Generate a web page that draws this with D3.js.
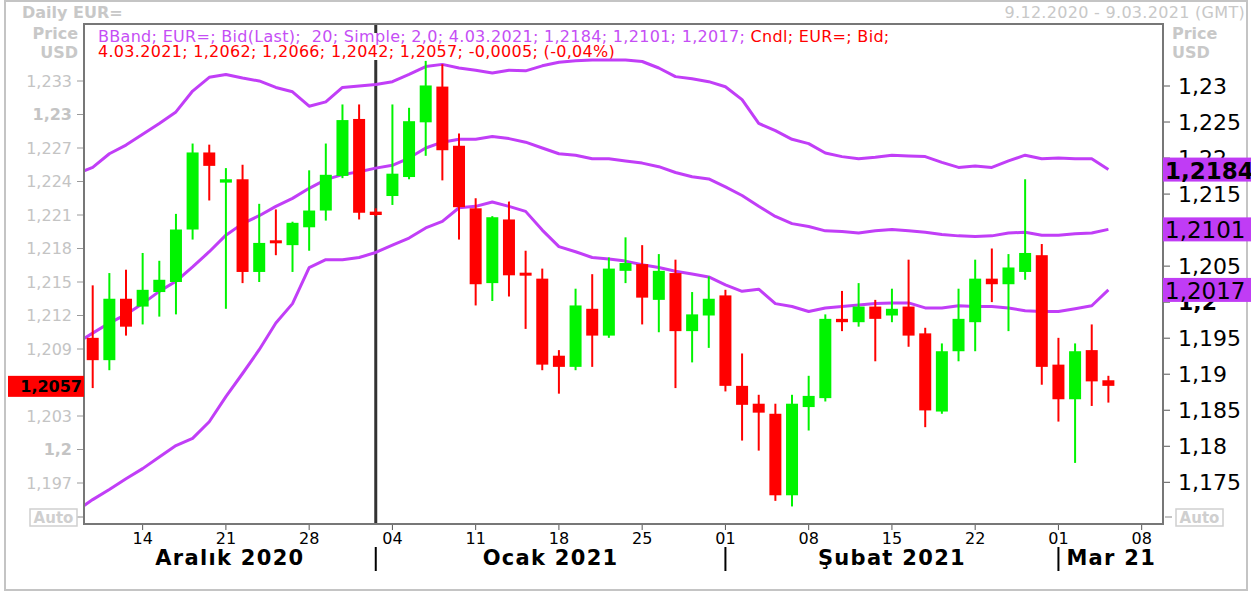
<!DOCTYPE html>
<html>
<head>
<meta charset="utf-8">
<script src="https://cdn.jsdelivr.net/npm/d3@7"></script>
<style>
  body { margin: 0; background: #fff; }
  text { font-family: "DejaVu Sans", Verdana, sans-serif; }
</style>
</head>
<body>
<div id="chart"></div>
<script>
// trading days shown as candles
const candleDates = [
  "2020-12-09","2020-12-10","2020-12-11",
  "2020-12-14","2020-12-15","2020-12-16","2020-12-17","2020-12-18",
  "2020-12-21","2020-12-22","2020-12-23","2020-12-24","2020-12-25",
  "2020-12-28","2020-12-29","2020-12-30","2020-12-31","2021-01-01",
  "2021-01-04","2021-01-05","2021-01-06","2021-01-07","2021-01-08",
  "2021-01-11","2021-01-12","2021-01-13","2021-01-14","2021-01-15",
  "2021-01-18","2021-01-19","2021-01-20","2021-01-21","2021-01-22",
  "2021-01-25","2021-01-26","2021-01-27","2021-01-28","2021-01-29",
  "2021-02-01","2021-02-02","2021-02-03","2021-02-04","2021-02-05",
  "2021-02-08","2021-02-09","2021-02-10","2021-02-11","2021-02-12",
  "2021-02-15","2021-02-16","2021-02-17","2021-02-18","2021-02-19",
  "2021-02-22","2021-02-23","2021-02-24","2021-02-25","2021-02-26",
  "2021-03-01","2021-03-02","2021-03-03","2021-03-04"
];

const open = [1.2100,1.2080,1.2135, 1.2128,1.2141,1.2150,1.2197,1.2266, 1.2239,1.2242,1.2159,1.2186,1.2183,
  1.2199,1.2214,1.2245,1.2296,1.2213, 1.2227,1.2244,1.2293,1.2325,1.2272, 1.2216,1.2149,1.2206,1.2157,1.2153,
  1.2084,1.2074,1.2126,1.2102,1.2160, 1.2166,1.2134,1.2158,1.2106,1.2120, 1.2138,1.2057,1.2041,1.2032,1.1959,
  1.2038,1.2046,1.2117,1.2114,1.2128, 1.2120,1.2128,1.2104,1.2034,1.2088, 1.2114,1.2153,1.2148,1.2159,1.2174,
  1.2076,1.2045,1.2089,1.2062];
const high = [1.2147,1.2158,1.2161, 1.2176,1.2169,1.2211,1.2274,1.2273, 1.2252,1.2255,1.2220,1.2215,1.2204,
  1.2250,1.2274,1.2309,1.2309,1.2216, 1.2309,1.2306,1.2348,1.2345,1.2283, 1.2225,1.2209,1.2222,1.2178,1.2162,
  1.2089,1.2144,1.2157,1.2172,1.2190, 1.2183,1.2175,1.2170,1.2141,1.2155, 1.2143,1.2086,1.2049,1.2041,1.2049,
  1.2066,1.2121,1.2142,1.2149,1.2134, 1.2144,1.2170,1.2109,1.2095,1.2144, 1.2170,1.2180,1.2175,1.2242,1.2184,
  1.2100,1.2095,1.2112,1.2066];
const low = [1.2055,1.2071,1.2102, 1.2112,1.2119,1.2121,1.2188,1.2223, 1.2126,1.2149,1.2150,1.2174,1.2159,
  1.2178,1.2205,1.2243,1.2206,1.2209, 1.2219,1.2242,1.2263,1.2241,1.2188, 1.2129,1.2133,1.2137,1.2108,1.2071,
  1.2050,1.2071,1.2074,1.2100,1.2149, 1.2112,1.2105,1.2055,1.2078,1.2091, 1.2052,1.2008,1.1999,1.1954,1.1949,
  1.2017,1.2043,1.2106,1.2110,1.2079, 1.2114,1.2092,1.2020,1.2032,1.2079, 1.2088,1.2132,1.2106,1.2152,1.2058,
  1.2025,1.1988,1.2039,1.2042];
const close = [1.2080,1.2135,1.2110, 1.2143,1.2152,1.2197,1.2266,1.2254, 1.2242,1.2159,1.2185,1.2184,1.2203,
  1.2214,1.2246,1.2295,1.2212,1.2210, 1.2247,1.2294,1.2326,1.2268,1.2217, 1.2148,1.2208,1.2156,1.2155,1.2076,
  1.2074,1.2129,1.2102,1.2162,1.2167, 1.2136,1.2160,1.2106,1.2121,1.2135, 1.2057,1.2040,1.2033,1.1959,1.2041,
  1.2048,1.2117,1.2114,1.2128,1.2117, 1.2126,1.2102,1.2035,1.2088,1.2117, 1.2153,1.2148,1.2163,1.2176,1.2074,
  1.2045,1.2088,1.2061,1.2057];

// Bollinger band (20, 2.0) starts one day before the first candle
const bandStart = "2020-12-08";
const bbUpper = [1.2178,1.2187,1.2206,1.2218,1.2233,1.2248,1.2264,1.2293,1.2312,1.2316,1.2311,1.2307,1.2298,
  1.2292,1.2272,1.2278,1.2298,1.2300,1.2302,1.2306,1.2316,1.2327,1.2330,1.2325,1.2322,1.2318,1.2322,1.2321,
  1.2328,1.2333,1.2335,1.2336,1.2336,1.2336,1.2334,1.2325,1.2313,1.2310,1.2306,1.2299,1.2281,1.2248,1.2238,
  1.2226,1.2220,1.2207,1.2202,1.2199,1.2201,1.2204,1.2203,1.2202,1.2194,1.2187,1.2189,1.2187,1.2196,1.2204,
  1.2199,1.2200,1.2199,1.2199,1.2184];
const bbMiddle = [1.1943,1.1957,1.1971,1.1983,1.1998,1.2015,1.2029,1.2049,1.2070,1.2093,1.2109,1.2120,1.2133,
  1.2144,1.2158,1.2170,1.2177,1.2181,1.2186,1.2190,1.2200,1.2214,1.2222,1.2226,1.2226,1.2230,1.2227,1.2222,
  1.2214,1.2206,1.2204,1.2199,1.2199,1.2196,1.2193,1.2188,1.2180,1.2174,1.2171,1.2160,1.2148,1.2133,1.2119,
  1.2109,1.2105,1.2099,1.2098,1.2096,1.2099,1.2101,1.2099,1.2097,1.2094,1.2092,1.2091,1.2092,1.2096,1.2097,
  1.2093,1.2093,1.2095,1.2096,1.2101];
const bbLower = [1.1710,1.1726,1.1740,1.1755,1.1769,1.1785,1.1801,1.1811,1.1834,1.1869,1.1901,1.1934,1.1971,
  1.1998,1.2048,1.2059,1.2059,1.2062,1.2069,1.2079,1.2089,1.2103,1.2112,1.2131,1.2133,1.2139,1.2133,1.2126,
  1.2100,1.2077,1.2070,1.2062,1.2060,1.2057,1.2052,1.2048,1.2043,1.2039,1.2035,1.2024,1.2015,1.2018,1.1998,
  1.1994,1.1987,1.1992,1.1994,1.1996,1.1998,1.1999,1.1999,1.1992,1.1992,1.1995,1.1994,1.1994,1.1992,1.1988,
  1.1987,1.1987,1.1991,1.1995,1.2017];

// axis labels
const leftTicks = [1.233,1.23,1.227,1.224,1.221,1.218,1.215,1.212,1.209,1.206,1.203,1.2,1.197];
const leftBold = [1.23, 1.2];
const rightTicks = [1.23,1.225,1.22,1.215,1.21,1.205,1.2,1.195,1.19,1.185,1.18,1.175];
const rightBold = [1.2];
const tickDates = ["2020-12-14","2020-12-21","2020-12-28","2021-01-04","2021-01-11","2021-01-18","2021-01-25",
  "2021-02-01","2021-02-08","2021-02-15","2021-02-22","2021-03-01","2021-03-08"];
const monthStarts = ["2021-01-01","2021-02-01","2021-03-01"];
const monthLabels = ["Aralık 2020","Ocak 2021","Şubat 2021","Mar 21"];

const W = 1251, H = 593;
const plot = { left: 84, right: 1163, top: 24, bottom: 524 };
const upColor = "#00f400", downColor = "#ff0000", bandColor = "#c13ef7";

const parse = d3.timeParse("%Y-%m-%d");
const fmtKey = d3.timeFormat("%Y-%m-%d");
const fmtDay = d3.timeFormat("%-d.%m.%Y");

// every weekday on the axis, holidays included
const axisDays = d3.timeDay.range(parse(bandStart), parse("2021-03-09"))
  .filter(d => d.getDay() !== 0 && d.getDay() !== 6);
const dayIndex = new Map(axisDays.map((d, i) => [fmtKey(d), i]));
const idx = s => dayIndex.get(s);

const x = d3.scaleLinear().domain([0.4775, 65.28]).range([plot.left, plot.right]);
const yL = d3.scaleLinear().domain([1.233, 1.197]).range([81, 483]);
const yR = d3.scaleLinear().domain([1.23, 1.175]).range([86, 482.3]);

// decimal comma, plain hyphen for negatives
const comma = (f, v) => d3.format(f)(v).replace(".", ",").replace("\u2212", "-");

const svg = d3.select("#chart").append("svg")
  .attr("width", W).attr("height", H);

svg.append("rect").attr("width", W).attr("height", H).attr("fill", "#fff");

// outer frame
svg.append("rect")
  .attr("x", 5).attr("y", 1).attr("width", 1242).attr("height", 589)
  .attr("fill", "none").attr("stroke", "#c4c4c4").attr("stroke-width", 2);

// header
svg.append("text").attr("x", 22).attr("y", 12).attr("dominant-baseline", "central")
  .attr("font-size", 16).attr("font-weight", "bold").attr("fill", "#c8c8c8").text("Daily EUR=");
svg.append("text").attr("x", 1245).attr("y", 12).attr("dominant-baseline", "central")
  .attr("text-anchor", "end").attr("font-size", 16).attr("fill", "#c8c8c8")
  .style("letter-spacing", "0.3px")
  .text(`${fmtDay(parse("2020-12-09"))} - ${fmtDay(parse("2021-03-09"))} (GMT)`);

[["Price", 33], ["USD", 52]].forEach(([t, yy]) => {
  svg.append("text").attr("x", 78).attr("y", yy).attr("dominant-baseline", "central")
    .attr("text-anchor", "end").attr("font-size", 16).attr("font-weight", "bold").attr("fill", "#c8c8c8").text(t);
  svg.append("text").attr("x", 1172).attr("y", yy).attr("dominant-baseline", "central")
    .attr("font-size", 16).attr("font-weight", "bold").attr("fill", "#c8c8c8").text(t);
});

// left axis (candles)
const leftAxis = svg.append("g");
leftTicks.forEach(v => {
  leftAxis.append("line").attr("x1", 77).attr("x2", plot.left)
    .attr("y1", yL(v)).attr("y2", yL(v)).attr("stroke", "#9a9a9a");
  leftAxis.append("text").attr("x", 72).attr("y", yL(v)).attr("dominant-baseline", "central")
    .attr("text-anchor", "end").attr("font-size", 16).attr("fill", "#c4c4c4")
    .attr("font-weight", leftBold.includes(v) ? "bold" : "normal")
    .text(comma(".3~f", v));
});

// right axis (bands)
const rightAxis = svg.append("g");
rightTicks.forEach(v => {
  rightAxis.append("line").attr("x1", plot.right).attr("x2", 1170)
    .attr("y1", yR(v)).attr("y2", yR(v)).attr("stroke", "#555");
  rightAxis.append("text").attr("x", 1178).attr("y", yR(v)).attr("dominant-baseline", "central")
    .attr("font-size", 22).attr("fill", "#000")
    .attr("font-weight", rightBold.includes(v) ? "bold" : "normal")
    .text(comma(".3~f", v));
});

// Auto boxes
[[30, 77, 84], [1176, 1165, 1172]].forEach(([bx, t1, t2]) => {
  svg.append("line").attr("x1", t1).attr("x2", t2).attr("y1", 517).attr("y2", 517).attr("stroke", "#888");
  svg.append("rect").attr("x", bx).attr("y", 509).attr("width", 47).attr("height", 17)
    .attr("fill", "#fff").attr("stroke", "#cfcfcf").attr("stroke-width", 1.5);
  svg.append("text").attr("x", bx + 23.5).attr("y", 518).attr("dominant-baseline", "central")
    .attr("text-anchor", "middle").attr("font-size", 15).attr("font-weight", "bold")
    .attr("fill", "#cfcfcf").text("Auto");
});

// plot contents
svg.append("defs").append("clipPath").attr("id", "plot-clip")
  .append("rect").attr("x", plot.left).attr("y", plot.top)
  .attr("width", plot.right - plot.left).attr("height", plot.bottom - plot.top);
const g = svg.append("g").attr("clip-path", "url(#plot-clip)");

// year separator
const yearX = x(idx("2021-01-01"));
g.append("line").attr("x1", yearX).attr("x2", yearX).attr("y1", plot.top).attr("y2", plot.bottom)
  .attr("stroke", "#333").attr("stroke-width", 3);

// legend
const n = close.length - 1;
const lastDate = fmtDay(parse(candleDates[n]));
const chg = close[n] - open[n];
g.append("rect").attr("x", 95).attr("y", 33).attr("width", 795).attr("height", 27).attr("fill", "#fff");
const l1 = g.append("text").attr("x", 98).attr("y", 42).attr("font-size", 16)
  .style("white-space", "pre").style("letter-spacing", "0.3px");
l1.append("tspan").attr("fill", "#c54ef5")
  .text(`BBand; EUR=; Bid(Last);  20; Simple; 2,0; ${lastDate}; ${comma(".4f", bbUpper[bbUpper.length - 1])}; ${comma(".4f", bbMiddle[bbMiddle.length - 1])}; ${comma(".4f", bbLower[bbLower.length - 1])}; `);
l1.append("tspan").attr("fill", "#ff0000").text("Cndl; EUR=; Bid;");
g.append("text").attr("x", 98).attr("y", 57).attr("font-size", 16).attr("fill", "#ff0000")
  .style("white-space", "pre").style("letter-spacing", "0.3px")
  .text(`${lastDate}; ${comma(".4f", open[n])}; ${comma(".4f", high[n])}; ${comma(".4f", low[n])}; ${comma(".4f", close[n])}; ${comma(".4f", chg)}; (${comma(".2f", chg / open[n] * 100)}%)`);

// bands
const bandDates = [bandStart, ...candleDates];
[bbUpper, bbMiddle, bbLower].forEach(series => {
  g.append("path")
    .datum(series)
    .attr("fill", "none").attr("stroke", bandColor).attr("stroke-width", 3)
    .attr("stroke-linejoin", "round")
    .attr("d", d3.line().x((d, i) => x(idx(bandDates[i]))).y(d => yR(d)));
});

// candles
const candles = candleDates.map((d, i) => ({ date: d, o: open[i], h: high[i], l: low[i], c: close[i] }));
const cg = g.selectAll("g.candle").data(candles).join("g").attr("class", "candle");
cg.append("line")
  .attr("x1", d => x(idx(d.date))).attr("x2", d => x(idx(d.date)))
  .attr("y1", d => yL(d.h)).attr("y2", d => yL(d.l))
  .attr("stroke", d => d.c >= d.o ? upColor : downColor).attr("stroke-width", 2);
cg.append("rect")
  .attr("x", d => x(idx(d.date)) - 6).attr("width", 12)
  .attr("y", d => Math.min(yL(d.o), yL(d.c)) - (Math.abs(yL(d.o) - yL(d.c)) < 3 ? 1.5 : 0))
  .attr("height", d => Math.max(3, Math.abs(yL(d.o) - yL(d.c))))
  .attr("fill", d => d.c >= d.o ? upColor : downColor);

// plot frame
svg.append("rect")
  .attr("x", plot.left).attr("y", plot.top)
  .attr("width", plot.right - plot.left).attr("height", plot.bottom - plot.top)
  .attr("fill", "none").attr("stroke", "#777").attr("stroke-width", 2);

// last-value boxes on the right
[[bbUpper, true], [bbMiddle, false], [bbLower, false]].forEach(([s, bold]) => {
  const v = s[s.length - 1];
  svg.append("rect").attr("x", plot.right).attr("y", yR(v) - 12).attr("width", W - plot.right).attr("height", 24)
    .attr("fill", "#c03cf5");
  svg.append("text").attr("x", plot.right + 2).attr("y", yR(v) + 1).attr("dominant-baseline", "central")
    .attr("font-size", 23).attr("font-weight", bold ? "bold" : "normal").attr("fill", "#000")
    .text(comma(".4f", v));
});

// last close box on the left
svg.append("rect").attr("x", 8).attr("y", yL(close[n]) - 10).attr("width", plot.left - 8).attr("height", 21)
  .attr("fill", "#ff0000");
svg.append("text").attr("x", 82).attr("y", yL(close[n]) + 1).attr("dominant-baseline", "central")
  .attr("text-anchor", "end").attr("font-size", 16).attr("font-weight", "bold").attr("fill", "#000")
  .text(comma(".4f", close[n]));

// x axis
const xAxis = svg.append("g");
tickDates.forEach(s => {
  const tx = x(idx(s));
  xAxis.append("line").attr("x1", tx).attr("x2", tx).attr("y1", plot.bottom + 1).attr("y2", plot.bottom + 6)
    .attr("stroke", "#555");
  xAxis.append("text").attr("x", tx).attr("y", 538).attr("dominant-baseline", "central")
    .attr("text-anchor", "middle").attr("font-size", 16).attr("fill", "#000")
    .text(d3.timeFormat("%d")(parse(s)));
});

const bounds = [plot.left, ...monthStarts.map(s => x(idx(s))), plot.right];
monthStarts.forEach(s => {
  const mx = x(idx(s));
  xAxis.append("line").attr("x1", mx).attr("x2", mx).attr("y1", 547).attr("y2", 571)
    .attr("stroke", "#000").attr("stroke-width", 2);
});
monthLabels.forEach((t, i) => {
  const lbl = xAxis.append("text").attr("y", 558)
    .attr("dominant-baseline", "central").attr("text-anchor", "start")
    .attr("font-size", 21).attr("font-weight", "bold").attr("fill", "#000")
    .style("letter-spacing", "1.3px").text(t);
  // centre in the month span, but keep clear of the separator on the left
  const w = lbl.node().getBBox().width;
  lbl.attr("x", Math.max((bounds[i] + bounds[i + 1] - w) / 2, bounds[i] + 8));
});
</script>
</body>
</html>
